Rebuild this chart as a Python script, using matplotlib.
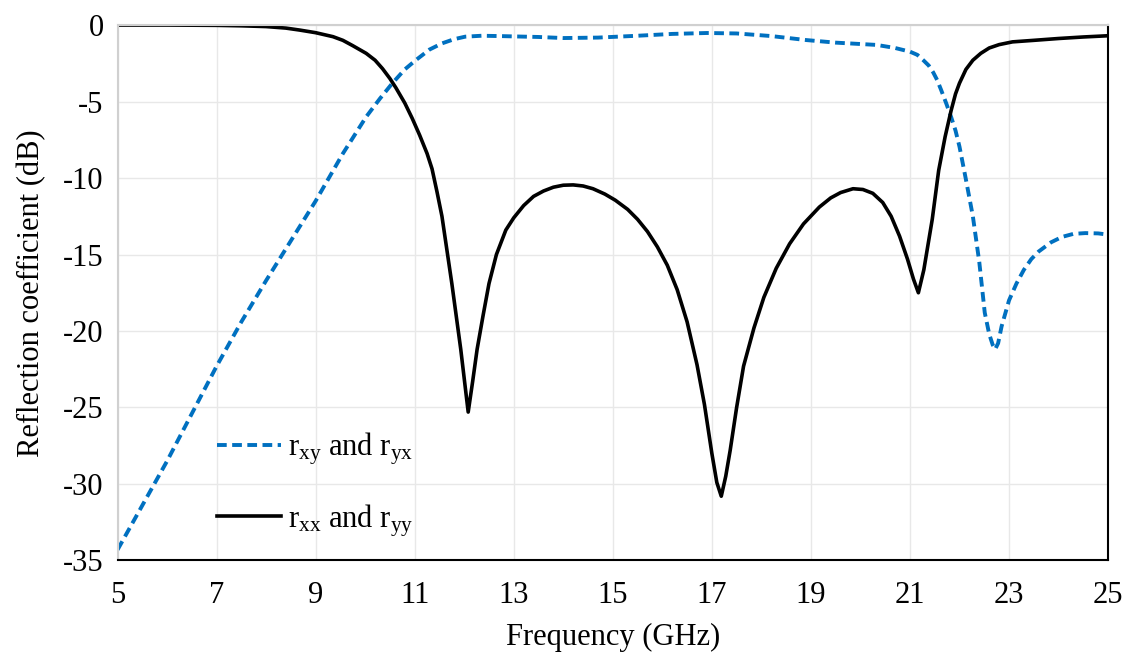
import numpy as np
import matplotlib
matplotlib.use("Agg")
import matplotlib.pyplot as plt

plt.rcParams['font.family'] = ['Liberation Serif', 'DejaVu Serif']
plt.rcParams['mathtext.fontset'] = 'custom'
plt.rcParams['mathtext.rm'] = 'Liberation Serif'
plt.rcParams['mathtext.it'] = 'Liberation Serif:italic'
plt.rcParams['axes.unicode_minus'] = False

# Cross-polarised reflection (r_xy, r_yx)
freq_xy = [5.0, 5.5, 6.0, 6.5, 7.0, 7.5, 8.0, 8.5, 9.0, 9.55, 10.02, 10.3,
           10.55, 10.8, 11.02, 11.3, 11.55, 11.8, 12.02, 12.35, 12.7, 13.5,
           14.0, 14.7, 15.5, 16.2, 16.9, 17.5, 18.2, 18.9, 19.5, 20.33, 20.7,
           21.0, 21.15, 21.27, 21.38, 21.47, 21.55, 21.63, 21.73, 21.83, 21.92,
           22.0, 22.13, 22.27, 22.4, 22.51, 22.6, 22.67, 22.72, 22.78, 22.85,
           23.0, 23.15, 23.3, 23.45, 23.6, 23.85, 24.07, 24.3, 24.54, 24.8,
           25.0]
r_xy = [-34.3, -31.4, -28.5, -25.4, -22.3, -19.4, -16.7, -14.1, -11.5, -8.4,
        -6.0, -4.8, -3.8, -2.9, -2.3, -1.6, -1.2, -0.92, -0.76, -0.7, -0.72,
        -0.78, -0.85, -0.82, -0.7, -0.58, -0.52, -0.55, -0.72, -0.98, -1.15,
        -1.3, -1.5, -1.74, -1.95, -2.3, -2.65, -3.1, -3.6, -4.25, -5.1, -6.0,
        -6.9, -7.95, -10.1, -12.5, -15.5, -18.8, -20.2, -20.9, -21.2, -20.8,
        -19.7, -18.0, -16.9, -16.0, -15.3, -14.8, -14.2, -13.85, -13.65, -13.6,
        -13.62, -13.7]

# Co-polarised reflection (r_xx, r_yy)
freq_xx = [5.0, 6.0, 7.0, 7.5, 8.0, 8.4, 8.68, 9.0, 9.35, 9.55, 9.75, 10.02,
           10.2, 10.35, 10.5, 10.62, 10.8, 10.95, 11.1, 11.25, 11.35, 11.45,
           11.55, 11.75, 11.93, 12.08, 12.17, 12.26, 12.38, 12.5, 12.65, 12.84,
           13.0, 13.2, 13.4, 13.6, 13.8, 14.0, 14.2, 14.4, 14.6, 14.84, 15.05,
           15.3, 15.5, 15.7, 15.9, 16.1, 16.3, 16.5, 16.7, 16.85, 17.0, 17.1,
           17.19, 17.28, 17.37, 17.5, 17.64, 17.85, 18.05, 18.3, 18.57, 18.85,
           19.17, 19.4, 19.6, 19.85, 20.05, 20.25, 20.45, 20.62, 20.79, 20.95,
           21.07, 21.17, 21.28, 21.45, 21.58, 21.71, 21.83, 21.92, 22.0, 22.13,
           22.27, 22.43, 22.6, 22.8, 23.07, 23.5, 24.0, 24.5, 25.0]
r_xx = [0.0, 0.0, -0.02, -0.05, -0.1, -0.2, -0.33, -0.5, -0.76, -1.0, -1.35,
        -1.85, -2.3, -2.85, -3.5, -4.1, -5.1, -6.1, -7.2, -8.4, -9.4, -10.9,
        -12.5, -16.9, -21.2, -25.3, -23.3, -21.2, -19.0, -16.9, -15.0, -13.4,
        -12.6, -11.8, -11.2, -10.85, -10.6, -10.47, -10.45, -10.52, -10.7,
        -11.05, -11.45, -12.05, -12.7, -13.5, -14.5, -15.7, -17.3, -19.4,
        -22.2, -24.8, -28.0, -29.9, -30.8, -29.5, -27.8, -25.0, -22.3, -19.8,
        -17.8, -15.9, -14.3, -13.0, -11.9, -11.3, -10.95, -10.7, -10.75, -11.0,
        -11.6, -12.5, -13.8, -15.3, -16.6, -17.5, -16.0, -12.7, -9.5, -7.3,
        -5.6, -4.5, -3.8, -2.9, -2.3, -1.85, -1.5, -1.28, -1.1, -1.0, -0.88,
        -0.78, -0.7]

x_ticks = np.arange(5, 26, 2)
y_ticks = np.arange(-35, 1, 5)

fig = plt.figure(figsize=(11.27, 6.59), dpi=100)
ax = fig.add_axes([0.1043, 0.1495, 0.8789, 0.8125])

ax.plot(freq_xy, r_xy, color='#0070C0', lw=2.8, dashes=(2.5, 1.4),
        dash_capstyle='butt', solid_joinstyle='round', dash_joinstyle='round',
        label=r'r$_{\rm xy}$ and r$_{\rm yx}$')
ax.plot(freq_xx, r_xx, color='black', lw=2.6, solid_joinstyle='round',
        label=r'r$_{\rm xx}$ and r$_{\rm yy}$')

ax.set_xlim(5, 25)
ax.set_ylim(-35, 0)
ax.set_xticks(x_ticks)
ax.set_yticks(y_ticks)
ax.tick_params(length=0, labelsize=22)
ax.tick_params(axis='x', pad=15)
ax.tick_params(axis='y', pad=10)
ax.grid(color='#e8e8e8', lw=1)
ax.set_axisbelow(True)

ax.spines['top'].set_color('#d0d0d0')
ax.spines['left'].set_color('#d0d0d0')
ax.spines['bottom'].set_color('black')
ax.spines['right'].set_color('black')
for s in ax.spines.values():
    s.set_linewidth(1.5)

ax.set_xlabel('Frequency (GHz)', fontsize=22, labelpad=9)
ax.set_ylabel('Reflection coefficient (dB)', fontsize=22, labelpad=12)

ax.legend(loc='center left', bbox_to_anchor=(0.1, 0.142), frameon=False,
          fontsize=22, handlelength=2.1, handletextpad=0.25, borderpad=0,
          borderaxespad=0, labelspacing=1.15)

fig.savefig('out.png', dpi=100)
